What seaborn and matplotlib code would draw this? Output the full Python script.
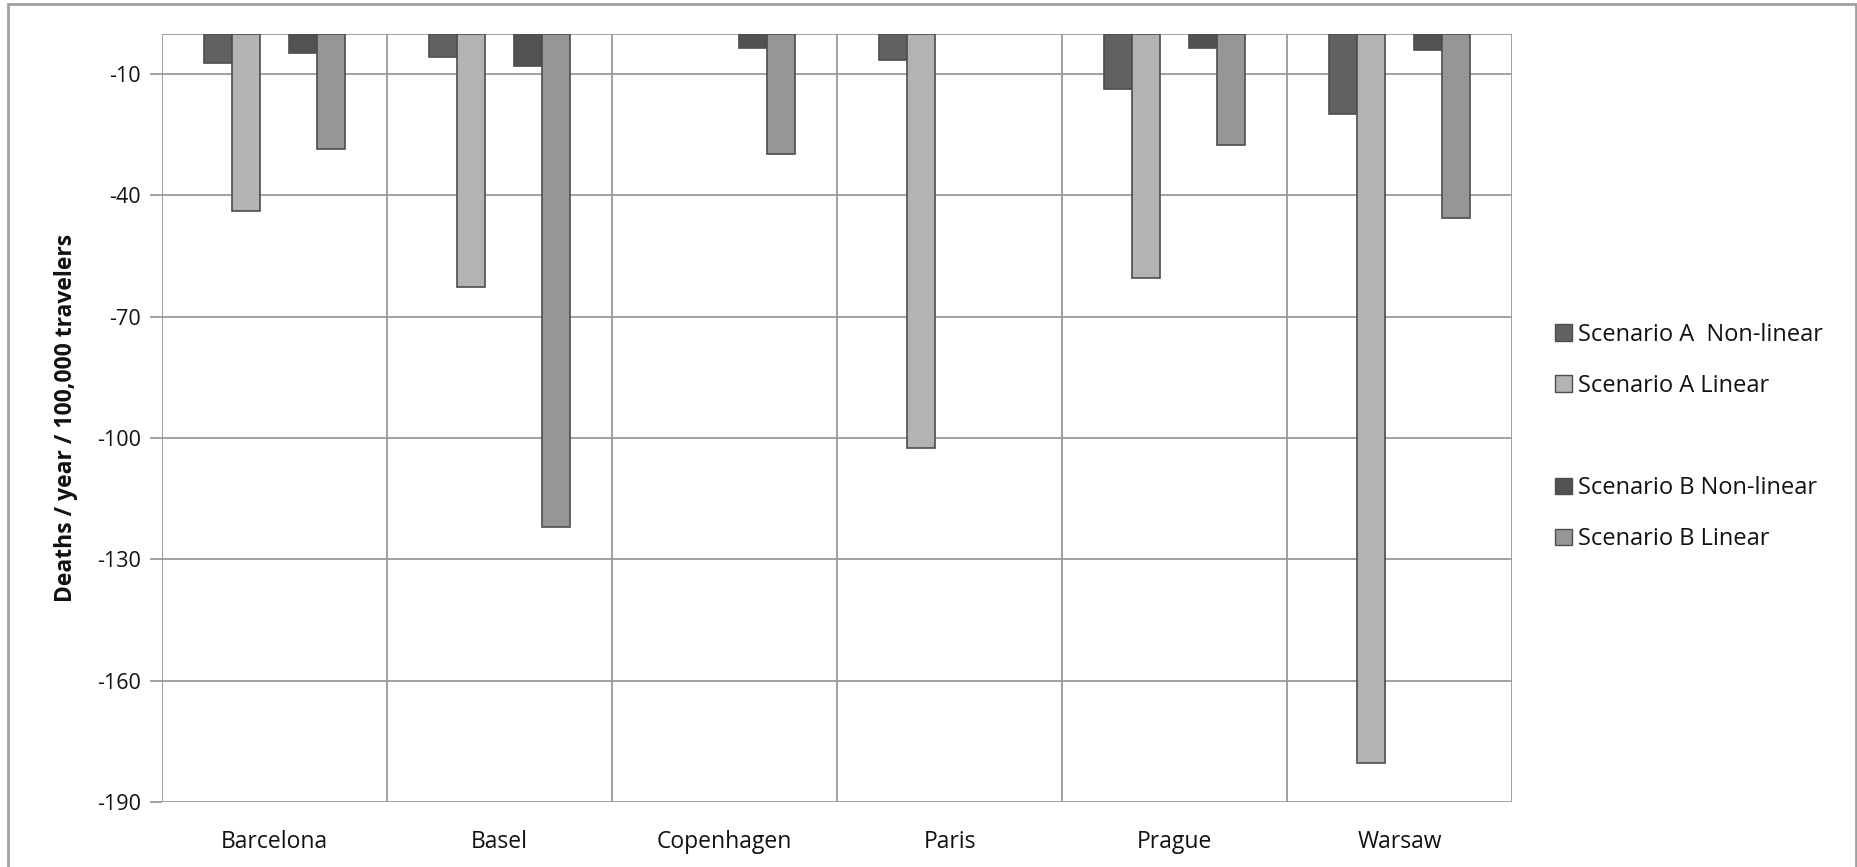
import numpy as np
import pandas as pd
import seaborn as sns
import matplotlib.pyplot as plt
from matplotlib.patches import Patch, Rectangle

# Cities on the category axis
cities = ["Barcelona", "Basel", "Copenhagen", "Paris", "Prague", "Warsaw"]

# Deaths / year / 100,000 travelers per scenario (NaN = no bar)
scen_a_nonlinear = [-7.4, -5.7, np.nan, -6.6, -13.8, -19.9]
scen_a_linear = [-43.8, -62.7, np.nan, -102.6, -60.5, -180.3]
spacer = [np.nan] * 6
scen_b_nonlinear = [-4.7, -8.0, -3.7, np.nan, -3.7, -4.1]
scen_b_linear = [-28.5, -121.9, -29.7, np.nan, -27.5, -45.6]

series_names = ["Scenario A  Non-linear", "Scenario A Linear", " ",
                "Scenario B Non-linear", "Scenario B Linear"]
series_values = [scen_a_nonlinear, scen_a_linear, spacer,
                 scen_b_nonlinear, scen_b_linear]
series_colors = ["#616161", "#b3b3b3", "#ffffff", "#525252", "#969696"]

y_ticks = [-10, -40, -70, -100, -130, -160, -190]

rows = []
for name, vals in zip(series_names, series_values):
    for city, v in zip(cities, vals):
        rows.append({"city": city, "series": name, "value": v})
df = pd.DataFrame(rows)

sns.set_theme(style="white")
plt.rcParams["font.family"] = ["Open Sans", "DejaVu Sans"]

fig = plt.figure(figsize=(18.57, 8.67), dpi=100)
ax = fig.add_axes([162 / 1857, 1 - 802 / 867, (1512 - 162) / 1857, (802 - 33.5) / 867])

sns.barplot(data=df, x="city", y="value", hue="series",
            order=cities, hue_order=series_names,
            palette=dict(zip(series_names, series_colors)),
            width=0.625, dodge=True, errorbar=None,
            edgecolor="#4d4d4d", linewidth=1.2, legend=False, ax=ax, zorder=3)

ax.set_ylim(-190, 0)
ax.set_xlim(-0.5, len(cities) - 0.5)
ax.set_yticks(y_ticks)
ax.set_yticklabels([str(t) for t in y_ticks], fontsize=15.5, color="#111111")
ax.set_xticks(range(len(cities)))
ax.set_xticklabels(cities, fontsize=16.5, color="#111111")

# Horizontal gridlines at the value ticks and at the top edge
grid_c = "#9a9a9a"
for t in y_ticks + [0]:
    ax.axhline(t, color=grid_c, lw=1.3, zorder=1)
# Vertical separators between city categories
for b in np.arange(-0.5, len(cities), 1.0):
    ax.axvline(b, color=grid_c, lw=1.3, zorder=1)

for s in ax.spines.values():
    s.set_visible(False)

ax.tick_params(axis="y", which="major", direction="out", length=9, width=1.3,
               color=grid_c, pad=6, left=True)
ax.tick_params(axis="x", length=0, pad=20)

ax.set_xlabel("")
ax.set_ylabel("Deaths / year / 100,000 travelers", fontsize=16.5,
              fontweight="bold", color="#111111", labelpad=14)

# Legend with an empty slot separating scenario A and B
handles = []
for name, col in zip(series_names, series_colors):
    if name.strip():
        handles.append(Patch(facecolor=col, edgecolor="#4d4d4d", linewidth=1.0))
    else:
        handles.append(Patch(facecolor="none", edgecolor="none"))
fig.legend(handles, series_names, loc="center left",
           bbox_to_anchor=(1534 / 1857, 1 - 437 / 867),
           frameon=False, fontsize=17, handlelength=0.7, handleheight=0.7,
           handletextpad=0.25, labelspacing=1.15, labelcolor="#111111")

# Outer chart border
fig.patches.append(Rectangle((8 / 1857, -0.05), (1855.5 - 8) / 1857, 1.05 - 4 / 867,
                             transform=fig.transFigure, fill=False,
                             edgecolor="#a0a0a0", lw=2))

fig.savefig("out.png", dpi=100, facecolor="white")
